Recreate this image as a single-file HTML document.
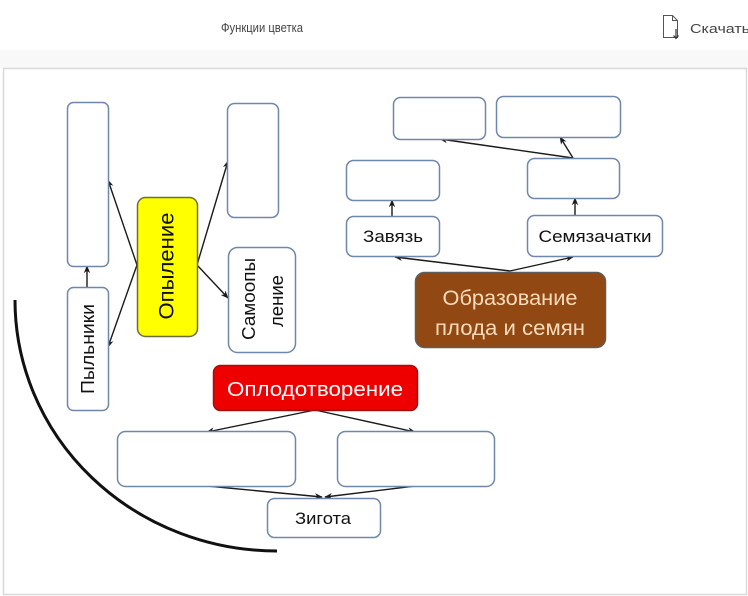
<!DOCTYPE html>
<html>
<head>
<meta charset="utf-8">
<style>
  html, body { margin:0; padding:0; background:#fff; }
  body { width:748px; height:596px; overflow:hidden; position:relative; font-family:"Liberation Sans", sans-serif; }
  svg { position:absolute; left:0; top:0; }
</style>
</head>
<body>
<svg width="748" height="596" viewBox="0 0 748 596" xmlns="http://www.w3.org/2000/svg">
  <defs>
    <marker id="ah" viewBox="0 0 10 10" refX="9" refY="5" markerWidth="8" markerHeight="8" orient="auto" markerUnits="userSpaceOnUse">
      <path d="M0,1 L10,5 L0,9 L3,5 Z" fill="#1a1a1a"/>
    </marker>
  </defs>

  <!-- header background -->
  <rect x="0" y="0" width="748" height="50" fill="#ffffff"/>
  <rect x="0" y="50" width="748" height="18" fill="#f8f8f8"/>
  <text x="262" y="32" text-anchor="middle" font-family="Liberation Sans, sans-serif" font-size="13" fill="#444" textLength="82" lengthAdjust="spacingAndGlyphs">Функции цветка</text>
  <!-- download icon -->
  <path d="M663.5,15.5 L672.5,15.5 L677.5,20.5 L677.5,37.5 L663.5,37.5 Z" fill="none" stroke="#555" stroke-width="1"/>
  <path d="M672.5,15.5 L672.5,20.5 L677.5,20.5" fill="none" stroke="#555" stroke-width="1"/>
  <path d="M676,29 L676,38 M673.5,35.5 L676,38.5 L678.5,35.5" fill="none" stroke="#333" stroke-width="1.2"/>
  <text x="690" y="33" font-family="Liberation Sans, sans-serif" font-size="13" fill="#444" textLength="60" lengthAdjust="spacingAndGlyphs">Скачать</text>

  <!-- frame -->
  <rect x="3.5" y="68.5" width="743" height="526" fill="#ffffff" stroke="#d9d9d9" stroke-width="1.5"/>

  <!-- big arc -->
  <path d="M15,300 A262,251 0 0 0 277,551" fill="none" stroke="#111" stroke-width="3"/>

  <!-- connectors -->
  <g stroke="#1a1a1a" stroke-width="1.4" fill="none" marker-end="url(#ah)">
    <line x1="137" y1="265" x2="108" y2="180"/>
    <line x1="137" y1="265" x2="108" y2="347"/>
    <line x1="197" y1="265" x2="228" y2="161"/>
    <line x1="197" y1="265" x2="228" y2="298"/>
    <line x1="87" y1="287" x2="87" y2="266"/>
    <line x1="510" y1="271" x2="395" y2="257"/>
    <line x1="510" y1="271" x2="573" y2="257"/>
    <line x1="392" y1="216" x2="392" y2="200"/>
    <line x1="575" y1="215" x2="575" y2="198"/>
    <line x1="573" y1="158" x2="440" y2="139"/>
    <line x1="573" y1="158" x2="560" y2="137"/>
    <line x1="315" y1="410" x2="207" y2="432"/>
    <line x1="315" y1="410" x2="415" y2="432"/>
    <line x1="207" y1="486" x2="322" y2="497"/>
    <line x1="415" y1="486" x2="325" y2="497"/>
  </g>

  <!-- white boxes -->
  <g fill="#ffffff" stroke="#6f87ab" stroke-width="1.5">
    <rect x="67.5" y="102.5" width="41" height="164" rx="6"/>
    <rect x="67.5" y="287.5" width="41" height="123" rx="6"/>
    <rect x="227.5" y="103.5" width="51" height="114" rx="7"/>
    <rect x="228.5" y="247.5" width="67" height="105" rx="9"/>
    <rect x="393.5" y="97.5" width="92" height="42" rx="7"/>
    <rect x="496.5" y="96.5" width="124" height="41" rx="7"/>
    <rect x="346.5" y="160.5" width="93" height="40" rx="7"/>
    <rect x="527.5" y="158.5" width="92" height="40" rx="7"/>
    <rect x="346.5" y="216.5" width="93" height="40" rx="7"/>
    <rect x="527.5" y="215.5" width="135" height="41" rx="7"/>
    <rect x="117.5" y="431.5" width="178" height="55" rx="8"/>
    <rect x="337.5" y="431.5" width="157" height="55" rx="8"/>
    <rect x="267.5" y="498.5" width="113" height="39" rx="7"/>
  </g>

  <!-- colored boxes -->
  <rect x="137.5" y="197.5" width="60" height="139" rx="8" fill="#ffff00" stroke="#6d6d3a" stroke-width="1.5"/>
  <rect x="415.5" y="272.5" width="190" height="75" rx="9" fill="#914812" stroke="#5e5e5e" stroke-width="1.5"/>
  <rect x="213.5" y="365.5" width="204" height="45" rx="7" fill="#ee0000" stroke="#a01010" stroke-width="1.5"/>

  <!-- labels -->
  <g font-family="Liberation Sans, sans-serif" fill="#111">
    <text x="167" y="266" text-anchor="middle" dominant-baseline="central" font-size="21" transform="rotate(-90 167 266)" textLength="107" lengthAdjust="spacingAndGlyphs">Опыление</text>
    <text x="88" y="349" text-anchor="middle" dominant-baseline="central" font-size="18" transform="rotate(-90 88 349)" textLength="90" lengthAdjust="spacingAndGlyphs">Пыльники</text>
    <text x="249" y="299" text-anchor="middle" dominant-baseline="central" font-size="18" transform="rotate(-90 249 299)" textLength="82" lengthAdjust="spacingAndGlyphs">Самоопы</text>
    <text x="277" y="301" text-anchor="middle" dominant-baseline="central" font-size="18" transform="rotate(-90 277 301)" textLength="52" lengthAdjust="spacingAndGlyphs">ление</text>
    <text x="393" y="242" text-anchor="middle" font-size="17" textLength="60" lengthAdjust="spacingAndGlyphs">Завязь</text>
    <text x="595" y="242" text-anchor="middle" font-size="17" textLength="113" lengthAdjust="spacingAndGlyphs">Семязачатки</text>
    <text x="323" y="524" text-anchor="middle" font-size="17" textLength="56" lengthAdjust="spacingAndGlyphs">Зигота</text>
  </g>
  <g font-family="Liberation Sans, sans-serif">
    <text x="510" y="305" text-anchor="middle" font-size="21" fill="#f7dcbc" textLength="135" lengthAdjust="spacingAndGlyphs">Образование</text>
    <text x="510" y="335" text-anchor="middle" font-size="21" fill="#f7dcbc" textLength="150" lengthAdjust="spacingAndGlyphs">плода и семян</text>
    <text x="315" y="396" text-anchor="middle" font-size="20" fill="#ffffff" textLength="176" lengthAdjust="spacingAndGlyphs">Оплодотворение</text>
  </g>
</svg>
</body>
</html>
